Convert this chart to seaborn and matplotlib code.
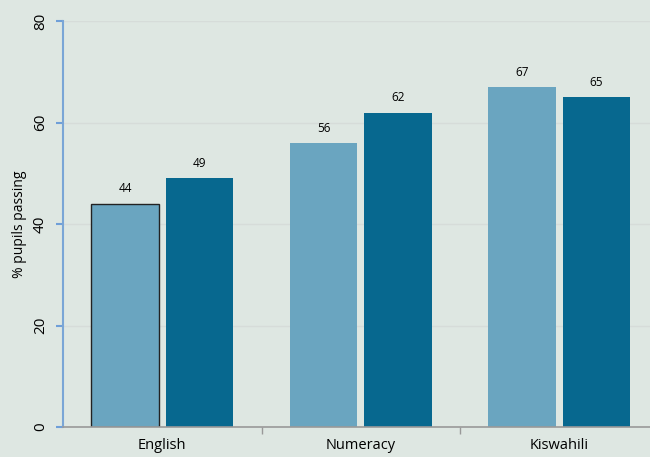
import pandas as pd
import numpy as np
import seaborn as sns
import matplotlib.pyplot as plt
from matplotlib.ticker import FixedLocator

subjects = ['English', 'Numeracy', 'Kiswahili']
series_names = ['Series A', 'Series B']
series_a = [44, 56, 67]
series_b = [49, 62, 65]
palette = ['#6aa5c0', '#07688f']
bg = '#dee7e2'

df = pd.DataFrame({
    'Subject': subjects * 2,
    'Series': [series_names[0]] * 3 + [series_names[1]] * 3,
    'Value': series_a + series_b,
})

sns.set_theme(style='white')
plt.rcParams['font.family'] = ['Open Sans', 'DejaVu Sans']

fig = plt.figure(figsize=(6.5, 4.57), dpi=100, facecolor=bg)
ax = fig.add_axes([0.097, 0.0656, 0.916, 0.888])
ax.set_facecolor(bg)

sns.barplot(data=df, x='Subject', y='Value', hue='Series', palette=palette,
            width=0.75, gap=0.093, saturation=1, legend=False, linewidth=0,
            ax=ax)

# black outline on the first bar only, as in the original
ax.patches[0].set_edgecolor('#222222')
ax.patches[0].set_linewidth(1.0)

for cont in ax.containers:
    ax.bar_label(cont, padding=6, fontsize=8.5, color='black')

ax.set_xlim(-0.5, 2.5)
ax.set_ylim(0, 80)
ax.set_yticks([0, 20, 40, 60, 80])
ax.set_yticklabels(['0', '20', '40', '60', '80'], rotation=90, va='center', fontsize=11)
ax.yaxis.grid(True, color='#d6dcd9', linewidth=1)
ax.set_axisbelow(True)
ax.set_xlabel('')
ax.set_ylabel('% pupils passing', fontsize=10, labelpad=4, color='black')
ax.tick_params(axis='x', length=0, labelsize=10.5, pad=8, labelcolor='black')
ax.tick_params(axis='y', length=5, color='#6f9fd8', width=1.5, pad=6, left=True,
               labelcolor='black')
ax.xaxis.set_minor_locator(FixedLocator([0.5, 1.5]))
ax.tick_params(axis='x', which='minor', length=5, color='#999999', bottom=True)

for side in ['top', 'right']:
    ax.spines[side].set_visible(False)
ax.spines['left'].set_color('#7aa6d6')
ax.spines['left'].set_linewidth(1.5)
ax.spines['bottom'].set_color('#999999')
ax.spines['bottom'].set_linewidth(1.2)

fig.savefig('out.png', dpi=100, facecolor=bg)
